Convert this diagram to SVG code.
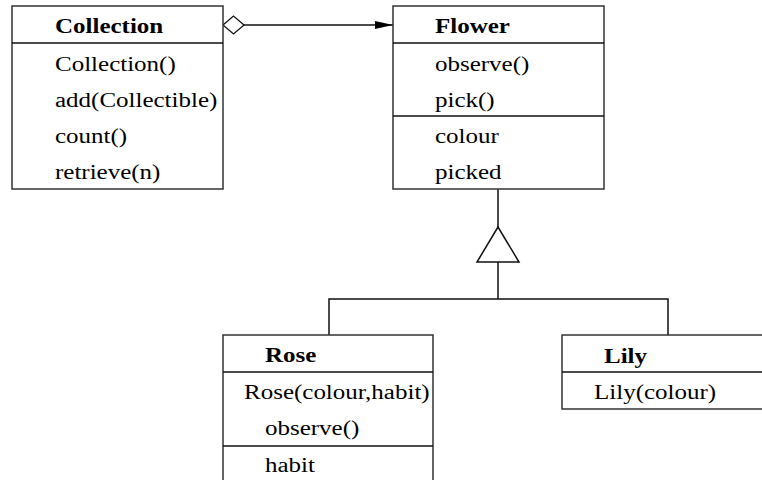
<svg xmlns="http://www.w3.org/2000/svg" width="762" height="480" viewBox="0 0 762 480">
  <style>
    .box { fill: #ffffff; stroke: #333333; stroke-width: 1.5; }
    .sep { stroke: #111111; stroke-width: 1.5; }
    .line { fill: none; stroke: #111111; stroke-width: 1.5; }
    text { font-family: "Liberation Serif", "Times New Roman", serif; font-size: 20px; fill: #000000; }
    .title { font-weight: bold; }
  </style>
  <defs>
    <marker id="open-diamond" markerWidth="24" markerHeight="22" refX="1" refY="10" orient="auto" markerUnits="userSpaceOnUse">
      <path d="M1,10 L11.5,1 L22,10 L11.5,19 Z" fill="#ffffff" stroke="#111111" stroke-width="1.3"/>
    </marker>
    <marker id="filled-arrow" markerWidth="20" markerHeight="10" refX="18" refY="5" orient="auto" markerUnits="userSpaceOnUse">
      <path d="M0,1 L18,5 L0,9 Z" fill="#000000"/>
    </marker>
  </defs>

  <rect width="762" height="480" fill="#ffffff"/>

  <g id="connectors">
    <!-- aggregation: Collection holds Flowers -->
    <line class="line" x1="223" y1="25" x2="393" y2="25" marker-start="url(#open-diamond)" marker-end="url(#filled-arrow)"/>
    <!-- generalization: Rose and Lily specialise Flower -->
    <line class="line" x1="498" y1="189" x2="498" y2="227"/>
    <polygon points="498,227 477,262 519,262" fill="#ffffff" stroke="#111111" stroke-width="1.5"/>
    <line class="line" x1="498" y1="262" x2="498" y2="299"/>
    <polyline class="line" points="329,335 329,299 668,299 668,335"/>
  </g>

  <g id="collection">
    <rect class="box" x="12" y="6" width="211" height="183"/>
    <line class="sep" x1="12" y1="43" x2="223" y2="43"/>
    <text class="title" transform="translate(55 33) scale(1.25 1)">Collection</text>
    <text transform="translate(55 71) scale(1.25 1)">Collection()</text>
    <text transform="translate(55 107) scale(1.25 1)">add(Collectible)</text>
    <text transform="translate(55 143) scale(1.25 1)">count()</text>
    <text transform="translate(55 179) scale(1.25 1)">retrieve(n)</text>
  </g>

  <g id="flower">
    <rect class="box" x="393" y="6" width="211" height="183"/>
    <line class="sep" x1="393" y1="43" x2="604" y2="43"/>
    <line class="sep" x1="393" y1="116" x2="604" y2="116"/>
    <text class="title" transform="translate(435 33) scale(1.25 1)">Flower</text>
    <text transform="translate(435 71) scale(1.25 1)">observe()</text>
    <text transform="translate(435 107) scale(1.25 1)">pick()</text>
    <text transform="translate(435 143) scale(1.25 1)">colour</text>
    <text transform="translate(435 179) scale(1.25 1)">picked</text>
  </g>

  <g id="rose">
    <rect class="box" x="223" y="335" width="210" height="170"/>
    <line class="sep" x1="223" y1="372" x2="433" y2="372"/>
    <line class="sep" x1="223" y1="446" x2="433" y2="446"/>
    <text class="title" transform="translate(265 362) scale(1.25 1)">Rose</text>
    <text transform="translate(244 399) scale(1.25 1)">Rose(colour,habit)</text>
    <text transform="translate(265 435) scale(1.25 1)">observe()</text>
    <text transform="translate(265 472) scale(1.25 1)">habit</text>
  </g>

  <g id="lily">
    <rect class="box" x="562" y="335" width="215" height="74"/>
    <line class="sep" x1="562" y1="372" x2="777" y2="372"/>
    <text class="title" transform="translate(604 363) scale(1.25 1)">Lily</text>
    <text transform="translate(594 399) scale(1.25 1)">Lily(colour)</text>
  </g>
</svg>
